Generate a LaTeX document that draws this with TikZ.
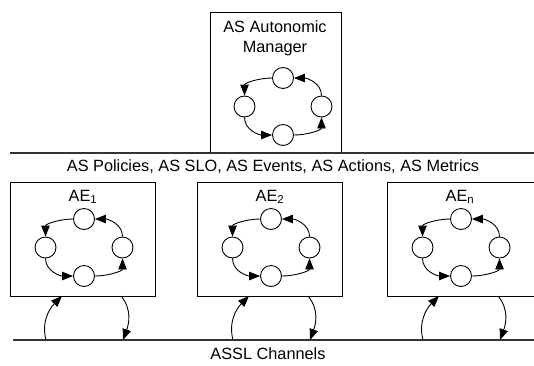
\documentclass[tikz,border=0pt]{standalone}
\usepackage{fontspec}
\setmainfont{Liberation Sans}
\usetikzlibrary{arrows.meta}

% One MAPE control loop: four states joined by curved arrows.
% #1 name prefix, #2 centre x, #3 y of the top state
\newcommand\mapeloop[3]{%
  \node[st] (#1t) at (#2,#3) {};
  \node[st] (#1l) at ({#2-38.5},{#3+28.5}) {};
  \node[st] (#1r) at ({#2+38.5},{#3+28.5}) {};
  \node[st] (#1b) at (#2,{#3+57}) {};
  \draw[flow] (#1t.west) to[out=180,in=90] (#1l.north);
  \draw[flow] (#1l.south) to[out=-90,in=180] (#1b.west);
  \draw[flow] (#1b.east) to[out=0,in=-90] (#1r.south);
  \draw[flow] (#1r.north) to[out=90,in=0] (#1t.east);
}

% An autonomic element box with its two links to the ASSL channel line.
% #1 name, #2 left x, #3 right x, #4 label
\newcommand\aebox[4]{%
  \node[box, minimum width={(#3-#2)*1pt}, minimum height=114pt, anchor=north west]
    (#1) at (#2,182) {};
  \node[lbl] (#1lbl) at ({#2+73},197) {#4};
  \mapeloop{#1}{#2+74}{219}
  \coordinate (#1up) at ({#2+52},296);
  \coordinate (#1down) at ({#2+111},296);
  \coordinate (#1chA) at ({#2+36},340);
  \coordinate (#1chB) at ({#2+113},340);
  \draw[flow] (#1chA) to[out=105,in=-135] (#1up);
  \draw[flow] (#1down) to[out=-50,in=70] (#1chB);
}

\begin{document}
\begin{tikzpicture}[x=1pt,y=-1pt,
  box/.style={draw, line width=1pt, inner sep=0pt},
  st/.style={draw, circle, minimum size=21pt, inner sep=0pt, line width=0.9pt, fill=white},
  flow/.style={line width=0.9pt, -{Triangle[length=11pt,width=8.5pt]}},
  lbl/.style={font=\fontsize{16.3}{20}\selectfont, inner sep=0pt, align=center},
  bus/.style={line width=1.1pt, draw=black!80}
]
\useasboundingbox (0,0) rectangle (534,365);
\clip (0,0) rectangle (534,365);

% autonomic manager of the whole system
\node[box, minimum width=131pt, minimum height=140pt, anchor=north west] (am) at (210,12) {};
\node[lbl] (amlbl) at (275,38) {AS Autonomic\\Manager};
\mapeloop{am}{283}{78}

% shared knowledge line
\coordinate (kL) at (10,153);
\coordinate (kR) at (540,153);
\draw[bus] (kL) -- (kR);
\node[lbl] (know) at (273,167) {AS Policies, AS SLO, AS Events, AS Actions, AS Metrics};

% autonomic elements
\aebox{aeA}{10}{155}{AE\textsubscript{1}}
\aebox{aeB}{197}{342}{AE\textsubscript{2}}
\aebox{aeC}{387}{545}{AE\textsubscript{n}}

% communication channel line
\coordinate (cL) at (13,340);
\coordinate (cR) at (540,340);
\draw[bus] (cL) -- (cR);
\node[lbl] (chan) at (268,354) {ASSL Channels};
\end{tikzpicture}
\end{document}
